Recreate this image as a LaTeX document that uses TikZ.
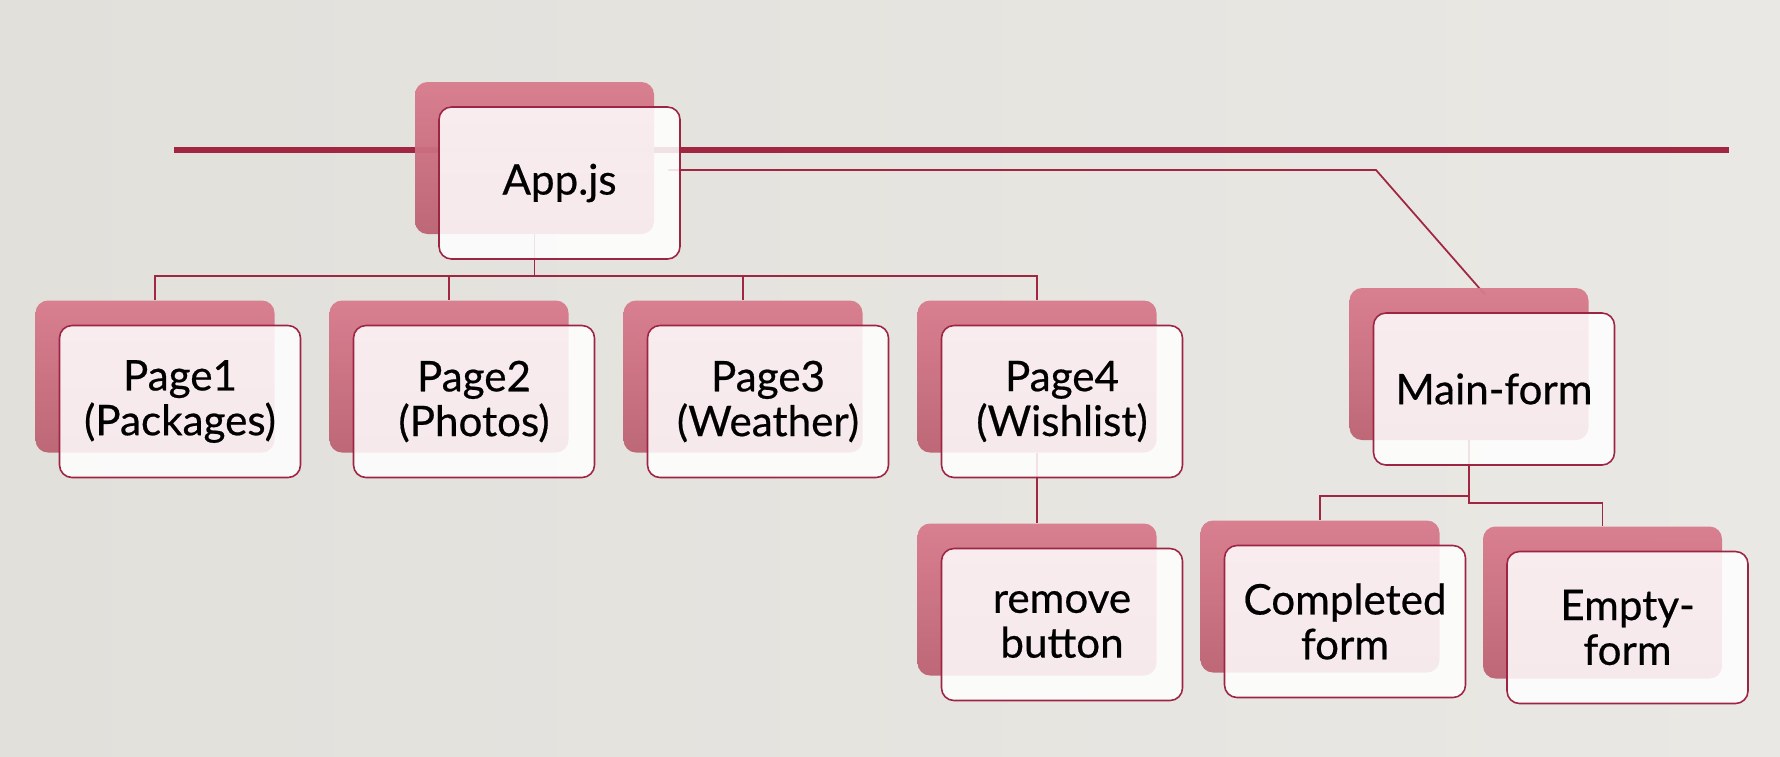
\documentclass[tikz,border=0pt]{standalone}
\usepackage{fontspec}
\setmainfont{Lato}[FakeBold=0.5]
\usepackage{tikz}
\usetikzlibrary{ % tikz packages
    positioning,backgrounds
}
\definecolor{slide}{RGB}{226,224,219}
\definecolor{slideR}{RGB}{233,232,228}
\definecolor{cardline}{RGB}{158,36,68}
\definecolor{wire}{RGB}{160,38,66}
\definecolor{pinkTop}{RGB}{216,122,140}
\definecolor{pinkBot}{RGB}{188,98,114}
\tikzset{cardback/.style={
    rounded corners=0.25cm,
    top color=pinkTop, middle color=pinkBot, bottom color=pinkBot,
    fill opacity=0.95,
    minimum width=4.78cm, minimum height=3.04cm
}}
\tikzset{card/.style={
    rounded corners=0.25cm,
    draw=cardline, line width=0.9pt,
    fill=white, fill opacity=0.86, text opacity=1,
    minimum width=4.82cm, minimum height=3.04cm,
    inner sep=0pt, align=center,
    font=\fontsize{24}{25.5}\selectfont
}}
\tikzset{link/.style={draw=wire, line width=1pt}}

\begin{document}
\begin{tikzpicture}[node distance=5.88cm,on grid]
        \useasboundingbox (0,0) rectangle (35.6,-15.12);

        % app and pages
        \node[cardback] (appb) at (10.69,-3.16) {};
        \node[card] (app) [below right=0.5cm and 0.5cm of appb] {App.js};

        \node[cardback] (p1b) at (3.1,-7.53) {};
        \node[card] (p1) [below right=0.5cm and 0.5cm of p1b] {Page1\\(Packages)};
        \node[cardback] (p2b) [right=of p1b] {};
        \node[card] (p2) [below right=0.5cm and 0.5cm of p2b] {Page2\\(Photos)};
        \node[cardback] (p3b) [right=of p2b] {};
        \node[card] (p3) [below right=0.5cm and 0.5cm of p3b] {Page3\\(Weather)};
        \node[cardback] (p4b) [right=of p3b] {};
        \node[card] (p4) [below right=0.5cm and 0.5cm of p4b] {Page4\\(Wishlist)};

        \node[cardback] (remb) [below=4.46cm of p4b] {};
        \node[card] (rem) [below right=0.5cm and 0.5cm of remb] {remove\\button};

        % form
        \node[cardback] (mainb) at (29.38,-7.28) {};
        \node[card] (main) [below right=0.5cm and 0.5cm of mainb] {Main-form};
        \node[cardback] (compb) at (26.4,-11.93) {};
        \node[card] (comp) [below right=0.5cm and 0.5cm of compb] {Completed\\form};
        \node[cardback] (empb) at (32.05,-12.05) {};
        \node[card] (emp) [below right=0.5cm and 0.5cm of empb] {Empty-\\form};

        \coordinate (tl) at (3.48,-3.0);
        \coordinate (tr) at (34.58,-3.0);
        \coordinate (bend) at (27.52,-3.4);

        \begin{pgfonlayer}{background}
            \shade[left color=slide, right color=slideR] (0,0) rectangle (35.6,-15.12);
            \draw[wire, line width=3.4pt] (tl) -- (tr);
            \draw[link] ([shift={(-0.25,0.26)}]app.east) -- (bend)
                -- ([shift={(0.32,-0.14)}]mainb.north);
            \foreach \p in {p1b,p2b,p3b,p4b}
                \draw[link] (appb.south) -- ++(0,-0.84) -| (\p.north);
            \draw[link] (p4b.south) -- (remb.north);
            \draw[link] (mainb.south) -- ++(0,-1.12) -| (compb.north);
            \draw[link] (mainb.south) -- ++(0,-1.26) -| (empb.north);
        \end{pgfonlayer}
    \end{tikzpicture}
\end{document}
